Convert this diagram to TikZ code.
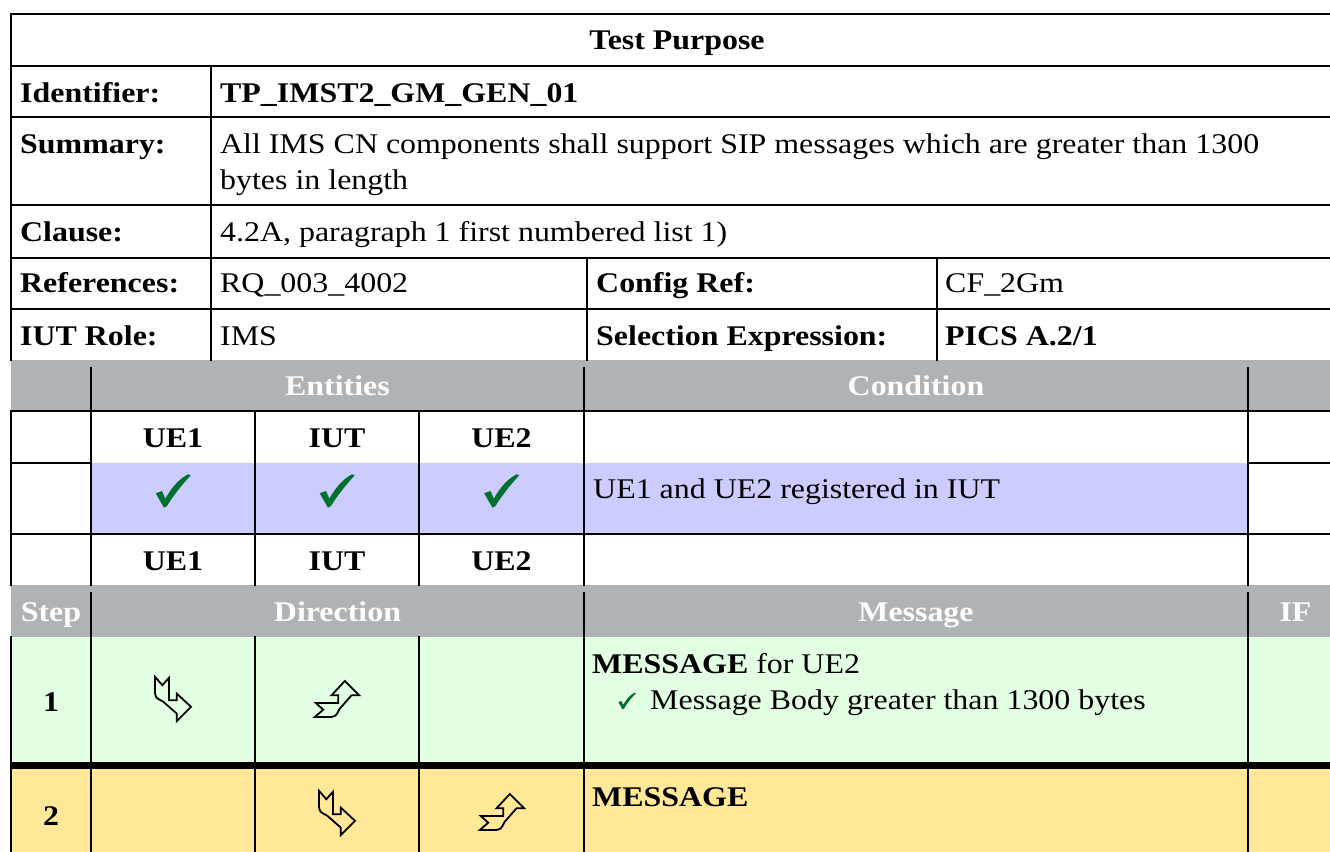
\documentclass[tikz,border=0pt]{standalone}
\usepackage{fontspec}
\setmainfont{Liberation Serif}[FakeStretch=1.12]
\usepackage{xcolor}

\definecolor{headgray}{HTML}{B0B3B6}
\definecolor{condblue}{HTML}{CCCCFF}
\definecolor{stepgreen}{HTML}{E3FFE3}
\definecolor{stepyellow}{HTML}{FFE897}
\definecolor{tickgreen}{HTML}{00702F}

\tikzset{
    cell/.style={inner sep=0pt, font=\fontsize{28.5}{34}\selectfont},
    bcell/.style={inner sep=0pt, font=\fontsize{28.5}{34}\selectfont\bfseries},
    head/.style={bcell, text=white, anchor=base},
    gridline/.style={line width=1.8pt, line cap=rect},
    sepline/.style={line width=7pt},
    pics/bentarrow/.style={code={
        \draw[line width=1.8pt, line join=miter]
            (-21.2,4) -- (1.2,4) -- (1.2,-3.7) -- (-5.5,-3.7)
            -- (7.8,-18) -- (22.2,-3.7) -- (14.5,-3.7) -- (2.5,10)
            .. controls (-1,17) .. (-6,18) -- (-22.2,18) -- (-13.8,10.7)
            -- cycle;
    }},
    pics/tick/.style={code={
        \fill[tickgreen]
            (-17.3,2.3) -- (-11,0) -- (-7.7,7.7)
            .. controls (0,-6) and (8,-13) .. (15,-16.7) -- (17.7,-15.7)
            .. controls (8,-5) and (0,5) .. (-6,15) -- (-9,16.7) -- cycle;
    }}
}

\begin{document}
\begin{tikzpicture}[x=1pt,y=-1pt]
\useasboundingbox (0,0) rectangle (1330,851);
\clip (0,0) rectangle (1330,851);

%row fills
\fill[headgray] (11,360) rectangle (1343,411);
\fill[headgray] (11,585) rectangle (1343,637);
\fill[condblue] (91,463) rectangle (1248,534);
\fill[stepgreen] (11,637) rectangle (1343,762);
\fill[stepyellow] (11,769) rectangle (1343,860);

%grid lines
\foreach \y in {14,66,117,205,258,309,411,534}
\draw[gridline] (11,\y) -- (1343,\y);
\draw[gridline] (11,463) -- (91,463) (1248,463) -- (1343,463);
\draw[gridline] (11,14) -- (11,360) (11,411) -- (11,585) (11,637) -- (11,860);
\draw[gridline] (211,66) -- (211,360);
\foreach \x in {587,937}
\draw[gridline] (\x,258) -- (\x,360);
\foreach \x in {91,584,1248}
\draw[gridline] (\x,368) -- (\x,585) (\x,593) -- (\x,860);
\foreach \x in {255,419}
\draw[gridline] (\x,411) -- (\x,585) (\x,637) -- (\x,860);
\draw[sepline] (11,765.5) -- (1343,765.5);

%test purpose block
\node[bcell, anchor=base] (tp) at (677,50) {Test Purpose};
\node[bcell, anchor=base west] (idlbl) at (20,102) {Identifier:};
\node[bcell, anchor=base west] (idval) at (220,102) {TP\_IMST2\_GM\_GEN\_01};
\node[bcell, anchor=base west] (sumlbl) at (20,153) {Summary:};
\node[cell, anchor=base west] (sumval) at (220,153)
    {All IMS CN components shall support SIP messages which are greater than 1300};
\node[cell, anchor=base west] (sumvalb) at (220,189) {bytes in length};
\node[bcell, anchor=base west] (cllbl) at (20,241) {Clause:};
\node[cell, anchor=base west] (clval) at (220,241) {4.2A, paragraph 1 first numbered list 1)};
\node[bcell, anchor=base west] (reflbl) at (20,292) {References:};
\node[cell, anchor=base west] (refval) at (220,292) {RQ\_003\_4002};
\node[bcell, anchor=base west] (cfglbl) at (596,292) {Config Ref:};
\node[cell, anchor=base west] (cfgval) at (945,292) {CF\_2Gm};
\node[bcell, anchor=base west] (iutlbl) at (20,345) {IUT Role:};
\node[cell, anchor=base west] (iutval) at (220,345) {IMS};
\node[bcell, anchor=base west] (sellbl) at (596,345) {Selection Expression:};
\node[bcell, anchor=base west] (selval) at (945,345) {PICS A.2/1};

%conditions
\node[head] (enthead) at (337.5,395) {Entities};
\node[head] (condhead) at (916,395) {Condition};
\foreach \x/\e in {173/UE1,337/IUT,501.5/UE2}{
    \node[bcell, anchor=base] (top\e) at (\x,447) {\e};
    \pic at (\x,491) {tick};
    \node[bcell, anchor=base] (bot\e) at (\x,570) {\e};
}
\node[cell, anchor=base west] (cond) at (593,498) {UE1 and UE2 registered in IUT};

%steps
\node[head] (stephead) at (51,621) {Step};
\node[head] (dirhead) at (337.5,621) {Direction};
\node[head] (msghead) at (916,621) {Message};
\node[head] (ifhead) at (1295.5,621) {IF};

\node[bcell, anchor=base] (stepa) at (51,711) {1};
\pic[rotate=-90] at (173,699) {bentarrow};
\pic at (337,699) {bentarrow};
\node[cell, anchor=base west] (msga) at (592,673) {\textbf{MESSAGE} for UE2};
\pic[scale=0.5] at (627,701) {tick};
\node[cell, anchor=base west] (msgab) at (650,709) {Message Body greater than 1300 bytes};

\node[bcell, anchor=base] (stepb) at (51,825) {2};
\pic[rotate=-90] at (337,813) {bentarrow};
\pic at (502,812) {bentarrow};
\node[bcell, anchor=base west] (msgb) at (592,806) {MESSAGE};
\end{tikzpicture}
\end{document}
